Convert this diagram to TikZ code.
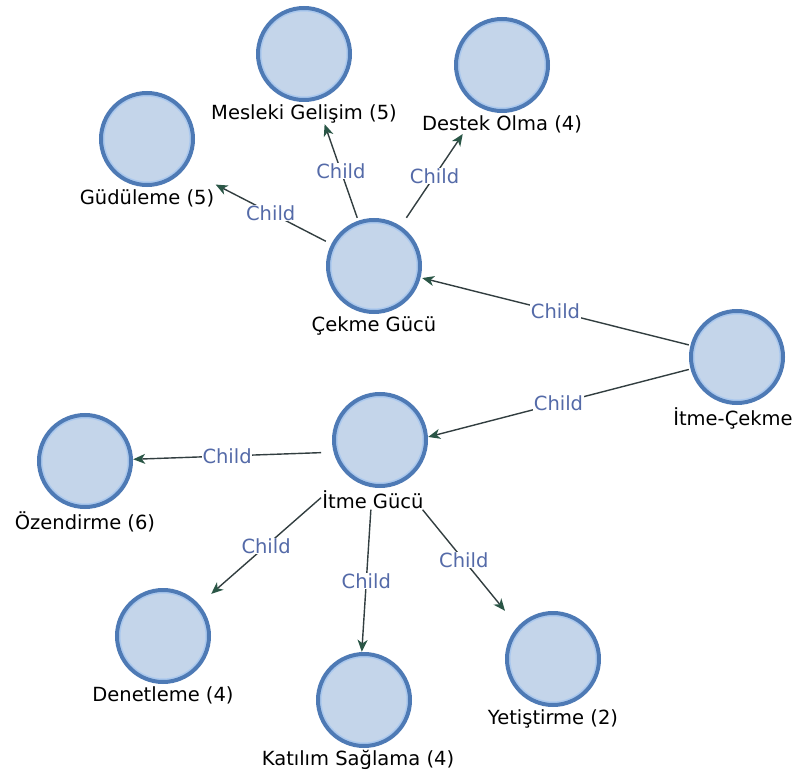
\documentclass[tikz,border=0pt]{standalone}
\usepackage{fontspec}
\setmainfont{DejaVu Sans}
\usetikzlibrary{arrows.meta,positioning,fit}
\definecolor{ringcol}{RGB}{78,122,181}
\definecolor{innercol}{RGB}{170,200,238}
\definecolor{fillcol}{RGB}{196,213,234}
\definecolor{linecol}{RGB}{50,62,64}
\definecolor{tipcol}{RGB}{42,86,70}
\definecolor{relcol}{RGB}{84,106,168}
\begin{document}
\begin{tikzpicture}[x=1pt,y=-1pt,
  entity/.style={circle,draw=ringcol,fill=fillcol,line width=4pt,minimum size=92pt,inner sep=0pt,
    path picture={\draw[innercol,line width=1.5pt] (path picture bounding box.center) circle (43.2pt);}},
  caption/.style={inner sep=1pt,font=\fontsize{19.5}{22}\selectfont,text=black},
  group/.style={inner sep=0pt},
  link/.style={draw=linecol,line width=1.4pt,-{Stealth[length=12pt,width=10pt,inset=3.5pt,color=tipcol]}},
  rel/.style={midway,fill=white,inner sep=0.5pt,text=relcol,font=\fontsize{19.5}{22}\selectfont},
]
\useasboundingbox (0,0) rectangle (800,783);
%%
  % Node: Mesleki Gelisim
  \node[entity] (mesleki) at (304,54) {};
  \node[caption,below=1pt of mesleki] (mesleki-l) {Mesleki Gelişim (5)};
  % Node: Destek Olma
  \node[entity] (destek) at (502,65) {};
  \node[caption,below=1pt of destek] (destek-l) {Destek Olma (4)};
  % Node: Guduleme
  \node[entity] (gudu) at (147,139) {};
  \node[caption,below=1pt of gudu] (gudu-l) {Güdüleme (5)};
  % Node: Cekme Gucu
  \node[entity] (cekme) at (374,266) {};
  \node[caption,below=1pt of cekme] (cekme-l) {Çekme Gücü};
  % Node: Itme-Cekme
  \node[entity] (itmecekme) at (737,357) {};
  \node[caption,below=1pt of itmecekme,xshift=-4pt] (itmecekme-l) {İtme-Çekme};
  % Node: Itme Gucu
  \node[entity] (itme) at (380,440) {};
  \node[caption,below=1pt of itme,xshift=-7pt] (itme-l) {İtme Gücü};
  % Node: Ozendirme
  \node[entity] (ozen) at (85,461) {};
  \node[caption,below=1pt of ozen] (ozen-l) {Özendirme (6)};
  % Node: Denetleme
  \node[entity] (denet) at (163,636) {};
  \node[caption,below=1pt of denet] (denet-l) {Denetleme (4)};
  % Node: Katilim Saglama
  \node[entity] (katilim) at (364,700) {};
  \node[caption,below=1pt of katilim,xshift=-6pt] (katilim-l) {Katılım Sağlama (4)};
  % Node: Yetistirme
  \node[entity] (yetis) at (553,659) {};
  \node[caption,below=1pt of yetis] (yetis-l) {Yetiştirme (2)};
%
  % boxes round the circles only, and round circle and caption
  \node[group,fit=(cekme)] (cekme-r) {};
  \node[group,fit=(itmecekme)] (itmecekme-r) {};
  \node[group,fit=(ozen)] (ozen-r) {};
  \node[group,fit=(denet)] (denet-r) {};
  \node[group,fit=(mesleki)(mesleki-l)] (mesleki-g) {};
  \node[group,fit=(destek)(destek-l)] (destek-g) {};
  \node[group,fit=(gudu)(gudu-l)] (gudu-g) {};
  \node[group,fit=(itme)(itme-l)] (itme-g) {};
  \node[group,fit=(katilim)(katilim-l)] (katilim-g) {};
  \node[group,fit=(yetis)(yetis-l)] (yetis-g) {};
%
  % Edge: itmecekme -> cekme
  \draw[link] (itmecekme-r) -- node[rel] {Child} (cekme-r);
  % Edge: itmecekme -> itme
  \draw[link] (itmecekme-r) -- node[rel] {Child} (itme-g);
  % Edge: cekme -> gudu
  \draw[link] (cekme-r) -- node[rel] {Child} (gudu-g);
  % Edge: cekme -> mesleki
  \draw[link] (cekme-r) -- node[rel] {Child} (mesleki-g);
  % Edge: cekme -> destek
  \draw[link] (cekme-r) -- node[rel] {Child} (destek-g);
  % Edge: itme -> ozen
  \draw[link] (itme-g) -- node[rel] {Child} (ozen-r);
  % Edge: itme -> denet
  \draw[link] (itme-g) -- node[rel] {Child} (denet-r);
  % Edge: itme -> katilim
  \draw[link] (itme-g) -- node[rel] {Child} (katilim-g);
  % Edge: itme -> yetis
  \draw[link] (itme-g) -- node[rel] {Child} (yetis-g);
%
\end{tikzpicture}
\end{document}
